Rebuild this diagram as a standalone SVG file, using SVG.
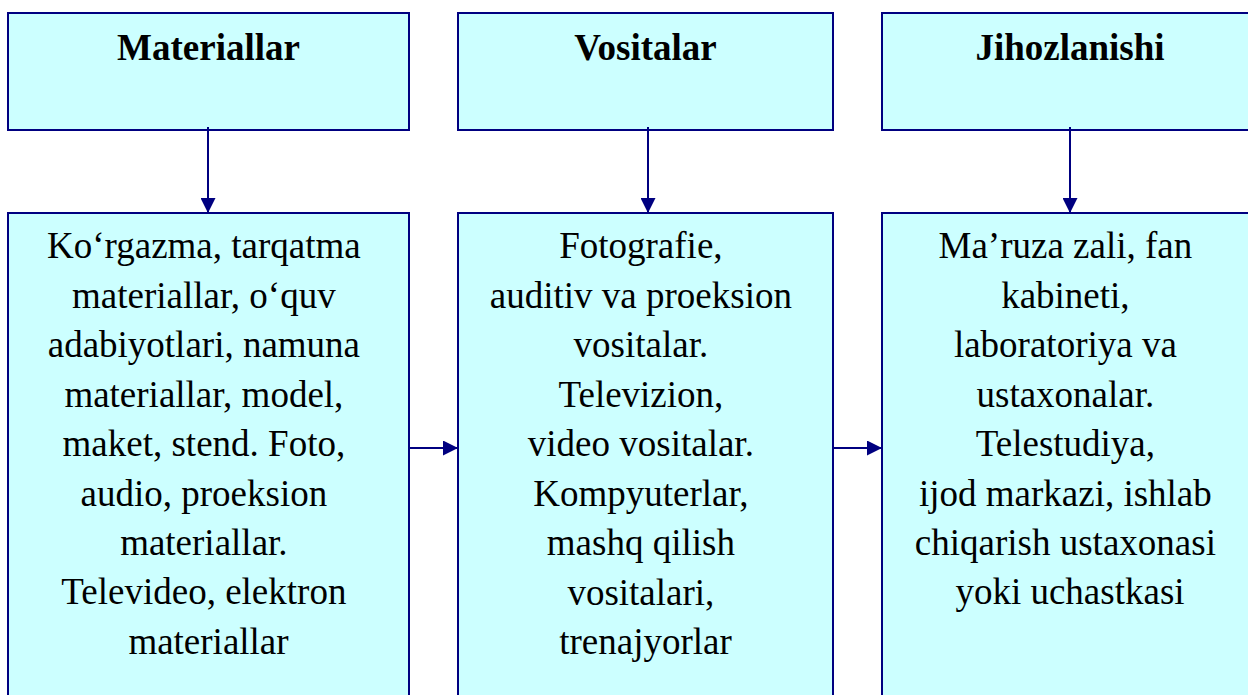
<svg xmlns="http://www.w3.org/2000/svg" width="1248" height="695" viewBox="0 0 1248 695">
<style>
.box{fill:#CCFFFF;stroke:#000080;stroke-width:2}
.title{font-family:"Liberation Serif","Times New Roman",serif;font-weight:bold;font-size:37px;fill:#000;text-anchor:middle}
.body{font-family:"Liberation Serif","Times New Roman",serif;font-size:37px;fill:#000;text-anchor:middle}
.conn{stroke:#000080;stroke-width:2;fill:none}
</style>
<defs>
<marker id="arr" markerWidth="15" markerHeight="15" refX="15" refY="7.5" orient="auto" markerUnits="userSpaceOnUse">
<path d="M0,0 L15,7.5 L0,15 Z" fill="#000080"/>
</marker>
</defs>
<rect width="1248" height="695" fill="#fff"/>
<g id="n-materiallar">
<rect class="box" x="8" y="13" width="401" height="117"/>
<text class="title" x="208.5" y="60">Materiallar</text>
</g>
<g id="n-vositalar">
<rect class="box" x="458" y="13" width="375" height="117"/>
<text class="title" x="645.5" y="60">Vositalar</text>
</g>
<g id="n-jihozlanishi">
<rect class="box" x="882" y="13" width="380" height="117"/>
<text class="title" x="1070" y="60">Jihozlanishi</text>
</g>
<g id="n-materiallar-list">
<rect class="box" x="8" y="213" width="401" height="520"/>
<text class="body">
<tspan x="208.5" y="258">Ko‘rgazma, tarqatma</tspan>
<tspan x="208.5" y="307.5">materiallar, o‘quv</tspan>
<tspan x="208.5" y="357">adabiyotlari, namuna</tspan>
<tspan x="208.5" y="406.5">materiallar, model,</tspan>
<tspan x="208.5" y="456">maket, stend. Foto,</tspan>
<tspan x="208.5" y="505.5">audio, proeksion</tspan>
<tspan x="208.5" y="555">materiallar.</tspan>
<tspan x="208.5" y="604">Televideo, elektron</tspan>
<tspan x="208.5" y="653.5">materiallar</tspan>
</text>
</g>
<g id="n-vositalar-list">
<rect class="box" x="458" y="213" width="375" height="520"/>
<text class="body">
<tspan x="645.5" y="258">Fotografie,</tspan>
<tspan x="645.5" y="307.5">auditiv va proeksion</tspan>
<tspan x="645.5" y="357">vositalar.</tspan>
<tspan x="645.5" y="406.5">Televizion,</tspan>
<tspan x="645.5" y="456">video vositalar.</tspan>
<tspan x="645.5" y="505.5">Kompyuterlar,</tspan>
<tspan x="645.5" y="555">mashq qilish</tspan>
<tspan x="645.5" y="604.5">vositalari,</tspan>
<tspan x="645.5" y="654">trenajyorlar</tspan>
</text>
</g>
<g id="n-jihozlanishi-list">
<rect class="box" x="882" y="213" width="380" height="520"/>
<text class="body">
<tspan x="1070" y="258">Ma’ruza zali, fan</tspan>
<tspan x="1070" y="307.5">kabineti,</tspan>
<tspan x="1070" y="357">laboratoriya va</tspan>
<tspan x="1070" y="406.5">ustaxonalar.</tspan>
<tspan x="1070" y="456">Telestudiya,</tspan>
<tspan x="1070" y="505.5">ijod markazi, ishlab</tspan>
<tspan x="1070" y="555">chiqarish ustaxonasi</tspan>
<tspan x="1070" y="604">yoki uchastkasi</tspan>
</text>
</g>
<g id="connectors">
<line class="conn" x1="208" y1="127" x2="208" y2="213" marker-end="url(#arr)"/>
<line class="conn" x1="648" y1="127" x2="648" y2="213" marker-end="url(#arr)"/>
<line class="conn" x1="1070" y1="127" x2="1070" y2="213" marker-end="url(#arr)"/>
<line class="conn" x1="409" y1="448" x2="458" y2="448" marker-end="url(#arr)"/>
<line class="conn" x1="833" y1="448" x2="882" y2="448" marker-end="url(#arr)"/>
</g>
</svg>
